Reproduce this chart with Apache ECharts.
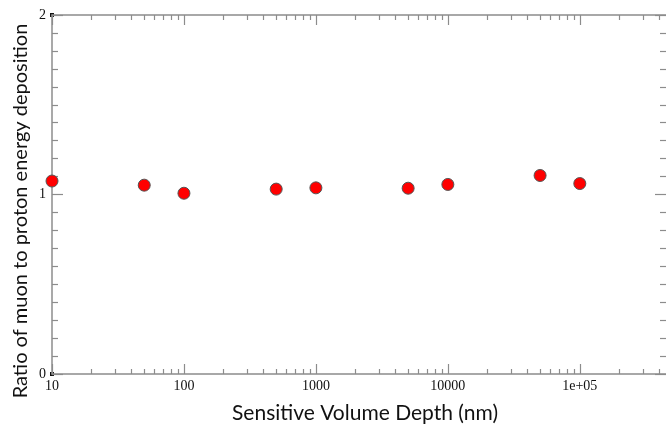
<!DOCTYPE html>
<html>
<head>
<meta charset="utf-8">
<script src="https://cdn.jsdelivr.net/npm/echarts@6/dist/echarts.min.js"></script>
<style>html,body{margin:0;padding:0;background:#fff;}#c{width:666px;height:429px;}</style>
</head>
<body>
<div id="c"></div>
<script>
// Data
const depthNm = [10, 50, 100, 500, 1000, 5000, 10000, 50000, 100000];
const ratio = [1.075, 1.052, 1.007, 1.030, 1.037, 1.035, 1.056, 1.106, 1.061];
const xMajorTicks = [10, 100, 1000, 10000, 100000];
const xTickLabels = ['10', '100', '1000', '10000', '1e+05'];
const xMinorTicks = [];
for (let d = 10; d <= 100000; d *= 10) { for (let k = 2; k <= 9; k++) xMinorTicks.push(d * k); }
const yTickLabels = ['0', '1', '2'];
const xTitle = 'Sensitive Volume Depth (nm)';
const yTitle = 'Ratio of muon to proton energy deposition';

const X_MIN = 10, X_MAX = 450000;
const axisGray = '#8c8c8c';
const tickFont = { fontFamily: 'Liberation Serif', fontSize: 14, color: '#111' };

function xAxisDef(pos, ticks, len, showLine, labels) {
  return {
    type: 'log', logBase: 10, position: pos, min: X_MIN, max: X_MAX,
    axisLine: { show: showLine, lineStyle: { color: axisGray, width: 1.5 } },
    axisTick: { show: true, inside: true, length: len, customValues: ticks, lineStyle: { color: axisGray, width: 1.2 } },
    axisLabel: labels ? Object.assign({ show: true, margin: 5, customValues: xMajorTicks,
      formatter: v => { const i = xMajorTicks.findIndex(t => Math.abs(t - v) / t < 1e-6); return i >= 0 ? xTickLabels[i] : ''; } }, tickFont) : { show: false },
    splitLine: { show: false }, minorTick: { show: false }
  };
}
function yAxisDef(pos, labels) {
  return {
    type: 'value', position: pos, min: 0, max: 2, interval: 1,
    axisLine: { show: labels, lineStyle: { color: axisGray, width: 1.5 } },
    axisTick: { show: true, inside: true, length: 11, lineStyle: { color: axisGray, width: 1.2 } },
    minorTick: { show: true, splitNumber: 10, length: 6, lineStyle: { color: axisGray, width: 1.2 } },
    axisLabel: labels ? Object.assign({ show: true, margin: 6, formatter: v => yTickLabels[Math.round(v)] }, tickFont) : { show: false },
    splitLine: { show: false }
  };
}

const titleFontX = '21px Lato';
const titleFontY = '20px Lato';
const chart = echarts.init(document.getElementById('c'), null, { renderer: 'canvas' });
chart.setOption({
  animation: false,
  backgroundColor: '#fff',
  grid: { left: 52, right: 0, top: 15, bottom: 55, containLabel: false },
  xAxis: [
    xAxisDef('bottom', xMajorTicks, 10, true, true),
    xAxisDef('bottom', xMinorTicks, 5, false, false),
    xAxisDef('top', xMajorTicks, 10, true, false),
    xAxisDef('top', xMinorTicks, 5, false, false)
  ],
  yAxis: [yAxisDef('left', true), yAxisDef('right', false)],
  series: [{
    type: 'scatter', xAxisIndex: 0, yAxisIndex: 0,
    data: depthNm.map((d, i) => [d, ratio[i]]),
    symbol: 'circle', symbolSize: 12,
    itemStyle: { color: '#ff0000', borderColor: '#555', borderWidth: 1, opacity: 1 }
  }]
});
// small corner markers at the axis corners
const c0 = chart.convertToPixel({ xAxisIndex: 0, yAxisIndex: 0 }, [X_MIN, 0]);
const c1 = chart.convertToPixel({ xAxisIndex: 0, yAxisIndex: 0 }, [X_MIN, 2]);
chart.setOption({
  graphic: [
    { type: 'text', x: 365, y: 413, style: { text: xTitle, align: 'center', verticalAlign: 'middle', font: titleFontX, fill: '#111' } },
    { type: 'text', x: 21, y: 211, rotation: Math.PI / 2, style: { text: yTitle, align: 'center', verticalAlign: 'middle', font: titleFontY, fill: '#111' } },
    { type: 'rect', shape: { x: c0[0] - 2, y: c0[1] - 2, width: 4, height: 4 }, style: { fill: '#111' } },
    { type: 'rect', shape: { x: c1[0] - 2, y: c1[1] - 2, width: 4, height: 4 }, style: { fill: '#111' } }
  ]
});
</script>
</body>
</html>
